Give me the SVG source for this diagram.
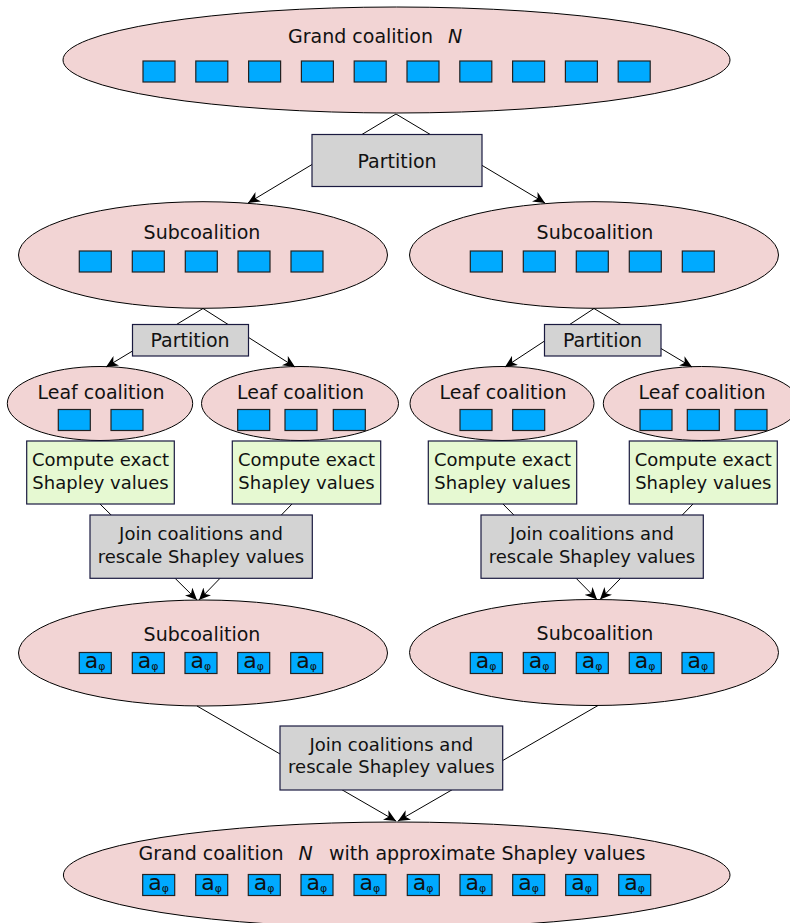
<svg xmlns="http://www.w3.org/2000/svg" xmlns:xlink="http://www.w3.org/1999/xlink" width="790" height="923" viewBox="0 0 790 923">
<style>
.ell{fill:#f2d4d4;stroke:#000;stroke-width:1}
.sq{fill:#00aaff;stroke:#222;stroke-width:1.2}
.gbox{fill:#d3d3d3;stroke:#1a1a40;stroke-width:1.2}
.cbox{fill:#e6f9d2;stroke:#1a1a40;stroke-width:1.2}
.t{font-family:"DejaVu Sans","Liberation Sans",sans-serif;font-size:19px;fill:#111}
.t18{font-family:"DejaVu Sans","Liberation Sans",sans-serif;font-size:18px;fill:#111;text-anchor:middle}
.mid{text-anchor:middle}
.a{font-family:"DejaVu Sans","Liberation Sans",sans-serif;font-size:22px;fill:#111}
.phi{font-size:11px}
.c{stroke:#000;stroke-width:1;fill:none;marker-end:url(#arr)}
</style>
<defs>
<marker id="arr" markerUnits="userSpaceOnUse" markerWidth="13" markerHeight="11" refX="12" refY="5.5" orient="auto">
<path d="M0,0 L12,5.5 L0,11 L3.5,5.5 Z" fill="#000"/>
</marker>
<rect id="s" class="sq" width="32" height="21"/>
<g id="sa"><rect class="sq" width="32" height="21"/><text class="a" x="5.5" y="15.5">a<tspan class="phi" dy="2">φ</tspan></text></g>
</defs>

<g id="grand-top">
<ellipse class="ell" cx="396.5" cy="60" rx="333.5" ry="53"/>
<text class="t" x="288" y="43">Grand coalition <tspan x="448" font-style="italic">N</tspan></text>
<use xlink:href="#s" x="143" y="61"/><use xlink:href="#s" x="195.8" y="61"/><use xlink:href="#s" x="248.6" y="61"/><use xlink:href="#s" x="301.4" y="61"/><use xlink:href="#s" x="354.2" y="61"/><use xlink:href="#s" x="407" y="61"/><use xlink:href="#s" x="459.8" y="61"/><use xlink:href="#s" x="512.6" y="61"/><use xlink:href="#s" x="565.4" y="61"/><use xlink:href="#s" x="618.2" y="61"/>
</g>

<g id="sub-left">
<ellipse class="ell" cx="203" cy="255" rx="184.5" ry="53.3"/>
<text class="t mid" x="202" y="239">Subcoalition</text>
<use xlink:href="#s" x="79.3" y="251"/><use xlink:href="#s" x="132.3" y="251"/><use xlink:href="#s" x="185.3" y="251"/><use xlink:href="#s" x="238" y="251"/><use xlink:href="#s" x="291" y="251"/>
</g>
<g id="sub-right">
<ellipse class="ell" cx="594" cy="255" rx="184.5" ry="53.3"/>
<text class="t mid" x="595" y="239">Subcoalition</text>
<use xlink:href="#s" x="470.3" y="251"/><use xlink:href="#s" x="523.3" y="251"/><use xlink:href="#s" x="576.3" y="251"/><use xlink:href="#s" x="629.3" y="251"/><use xlink:href="#s" x="682.3" y="251"/>
</g>

<g id="leaf1">
<ellipse class="ell" cx="100" cy="403.5" rx="92.7" ry="37"/>
<text class="t mid" x="101" y="399">Leaf coalition</text>
<use xlink:href="#s" x="58.3" y="409.5"/><use xlink:href="#s" x="111" y="409.5"/>
</g>
<g id="leaf2">
<ellipse class="ell" cx="300" cy="403.5" rx="98.5" ry="37"/>
<text class="t mid" x="300.5" y="399">Leaf coalition</text>
<use xlink:href="#s" x="237.7" y="409.5"/><use xlink:href="#s" x="285" y="409.5"/><use xlink:href="#s" x="333.3" y="409.5"/>
</g>
<g id="leaf3">
<ellipse class="ell" cx="502" cy="403.5" rx="92" ry="37"/>
<text class="t mid" x="503" y="399">Leaf coalition</text>
<use xlink:href="#s" x="460" y="409.5"/><use xlink:href="#s" x="512.7" y="409.5"/>
</g>
<g id="leaf4">
<ellipse class="ell" cx="701.5" cy="403.5" rx="98.2" ry="37"/>
<text class="t mid" x="702" y="399">Leaf coalition</text>
<use xlink:href="#s" x="640" y="409.5"/><use xlink:href="#s" x="687.3" y="409.5"/><use xlink:href="#s" x="735" y="409.5"/>
</g>

<g id="sub2-left">
<ellipse class="ell" cx="203" cy="653" rx="184.5" ry="53"/>
<text class="t mid" x="202" y="640.5">Subcoalition</text>
<use xlink:href="#sa" x="79.3" y="652.5"/><use xlink:href="#sa" x="132.3" y="652.5"/><use xlink:href="#sa" x="185" y="652.5"/><use xlink:href="#sa" x="237.7" y="652.5"/><use xlink:href="#sa" x="290.7" y="652.5"/>
</g>
<g id="sub2-right">
<ellipse class="ell" cx="594" cy="652.5" rx="184.5" ry="53"/>
<text class="t mid" x="595" y="640">Subcoalition</text>
<use xlink:href="#sa" x="470.3" y="652.5"/><use xlink:href="#sa" x="523.3" y="652.5"/><use xlink:href="#sa" x="576.3" y="652.5"/><use xlink:href="#sa" x="629.3" y="652.5"/><use xlink:href="#sa" x="682" y="652.5"/>
</g>

<g id="grand-bottom">
<ellipse class="ell" cx="396.7" cy="875" rx="333.3" ry="53"/>
<text class="t" x="138.5" y="860">Grand coalition <tspan x="298.5" font-style="italic">N</tspan><tspan x="323"> with approximate Shapley values</tspan></text>
<use xlink:href="#sa" x="142.7" y="874.5"/><use xlink:href="#sa" x="195.7" y="874.5"/><use xlink:href="#sa" x="248.3" y="874.5"/><use xlink:href="#sa" x="301" y="874.5"/><use xlink:href="#sa" x="354" y="874.5"/><use xlink:href="#sa" x="407.3" y="874.5"/><use xlink:href="#sa" x="460" y="874.5"/><use xlink:href="#sa" x="512.7" y="874.5"/><use xlink:href="#sa" x="565.7" y="874.5"/><use xlink:href="#sa" x="618.7" y="874.5"/>
</g>

<g id="connectors">
<line class="c" x1="396" y1="114" x2="248" y2="203"/>
<line class="c" x1="396" y1="114" x2="545" y2="203"/>
<line class="c" x1="203" y1="308.5" x2="106" y2="367"/>
<line class="c" x1="203" y1="308.5" x2="295" y2="367"/>
<line class="c" x1="594" y1="308.5" x2="505" y2="367"/>
<line class="c" x1="594" y1="308.5" x2="692" y2="367"/>
<line class="c" x1="100" y1="504" x2="197" y2="600"/>
<line class="c" x1="292" y1="504" x2="199" y2="600"/>
<line class="c" x1="503" y1="504" x2="597" y2="599.5"/>
<line class="c" x1="693" y1="504" x2="600" y2="599.5"/>
<line class="c" x1="197" y1="706" x2="396" y2="821"/>
<line class="c" x1="598" y1="705.5" x2="398" y2="821"/>
</g>

<g id="partition-top">
<rect class="gbox" x="312" y="134.5" width="170" height="52"/>
<text class="t mid" x="397" y="167.5">Partition</text>
</g>
<g id="partition-left">
<rect class="gbox" x="132.5" y="324.5" width="116" height="31.5"/>
<text class="t mid" x="190" y="347">Partition</text>
</g>
<g id="partition-right">
<rect class="gbox" x="544.5" y="324.5" width="116.5" height="31.5"/>
<text class="t mid" x="602.5" y="347">Partition</text>
</g>

<g id="exact1">
<rect class="cbox" x="26.7" y="441" width="147.6" height="63"/>
<text class="t18" x="100.5" y="466">Compute exact</text>
<text class="t18" x="100.5" y="488.5">Shapley values</text>
</g>
<g id="exact2">
<rect class="cbox" x="232.3" y="441" width="148.4" height="63"/>
<text class="t18" x="306.5" y="466">Compute exact</text>
<text class="t18" x="306.5" y="488.5">Shapley values</text>
</g>
<g id="exact3">
<rect class="cbox" x="428.3" y="441" width="148.4" height="63"/>
<text class="t18" x="502.5" y="466">Compute exact</text>
<text class="t18" x="502.5" y="488.5">Shapley values</text>
</g>
<g id="exact4">
<rect class="cbox" x="629.3" y="441" width="148" height="63"/>
<text class="t18" x="703.3" y="466">Compute exact</text>
<text class="t18" x="703.3" y="488.5">Shapley values</text>
</g>

<g id="join-left">
<rect class="gbox" x="90" y="515" width="222.3" height="63.3"/>
<text class="t18" x="201" y="540">Join coalitions and</text>
<text class="t18" x="201" y="562.7">rescale Shapley values</text>
</g>
<g id="join-right">
<rect class="gbox" x="481" y="515" width="222.3" height="63.3"/>
<text class="t18" x="592" y="540">Join coalitions and</text>
<text class="t18" x="592" y="562.7">rescale Shapley values</text>
</g>
<g id="join-bottom">
<rect class="gbox" x="280" y="726" width="222.7" height="64"/>
<text class="t18" x="391.3" y="750.5">Join coalitions and</text>
<text class="t18" x="391.3" y="773.3">rescale Shapley values</text>
</g>
</svg>
